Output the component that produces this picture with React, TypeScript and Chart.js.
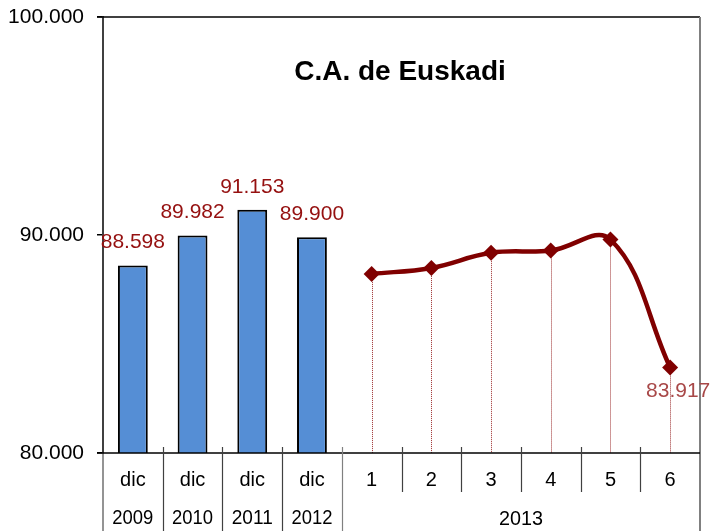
import React, { useEffect, useRef } from "react";
import { Chart, registerables } from "chart.js";

Chart.register(...registerables);

const topLabels = ["dic", "dic", "dic", "dic", "1", "2", "3", "4", "5", "6"];
const yearLabels = ["2009", "2010", "2011", "2012"];
const monthsYear = "2013";
const barValues: (number | null)[] = [88598, 89982, 91153, 89900, null, null, null, null, null, null];
const lineValues: (number | null)[] = [null, null, null, null, 88216, 88490, 89182, 89287, 89793, 83917];
const yTicks = [80000, 90000, 100000];
const title = "C.A. de Euskadi";

const FONT = "'Liberation Sans', Arial, sans-serif";
const fmt = (v: number) => {
  const s = Math.round(v).toString();
  return s.replace(/\B(?=(\d{3})+(?!\d))/g, ".");
};

const overlay = {
  id: "overlay",
  beforeDatasetsDraw(chart: any) {
    const ctx = chart.ctx;
    const y = chart.scales.y;
    const meta = chart.getDatasetMeta(1);
    ctx.save();
    ctx.strokeStyle = "rgba(140,10,10,0.85)";
    ctx.lineWidth = 1;
    ctx.setLineDash([1, 1]);
    meta.data.forEach((pt: any, i: number) => {
      if (lineValues[i] == null) return;
      const x = Math.round(pt.x) + 0.5;
      ctx.beginPath();
      ctx.moveTo(x, pt.y);
      ctx.lineTo(x, y.getPixelForValue(80000));
      ctx.stroke();
    });
    ctx.restore();
  },
  afterDraw(chart: any) {
    const ctx = chart.ctx;
    const area = chart.chartArea;
    const xs = chart.scales.x;
    const ys = chart.scales.y;
    const bottom = chart.height;
    ctx.save();
    // top border
    ctx.strokeStyle = "#000";
    ctx.lineWidth = 1.5;
    ctx.beginPath();
    ctx.moveTo(area.left - 6, area.top);
    ctx.lineTo(area.right, area.top);
    ctx.stroke();
    // right border
    ctx.strokeStyle = "#808080";
    ctx.lineWidth = 2;
    ctx.beginPath();
    ctx.moveTo(area.right, area.top);
    ctx.lineTo(area.right, bottom);
    ctx.stroke();
    // left axis extension
    ctx.strokeStyle = "#707070";
    ctx.lineWidth = 1.5;
    ctx.beginPath();
    ctx.moveTo(area.left, area.bottom);
    ctx.lineTo(area.left, bottom);
    ctx.stroke();
    // x axis
    ctx.strokeStyle = "#000";
    ctx.lineWidth = 1.5;
    ctx.beginPath();
    ctx.moveTo(area.left - 6, area.bottom);
    ctx.lineTo(area.right, area.bottom);
    ctx.stroke();
    // separators
    const n = topLabels.length;
    const w = (area.right - area.left) / n;
    for (let i = 1; i < n; i++) {
      const x = Math.round(xs.getPixelForValue(i) - w / 2) + 0.5;
      const full = i <= 4;
      ctx.strokeStyle = i === 4 ? "#808080" : "#404040";
      ctx.lineWidth = 1.2;
      ctx.beginPath();
      ctx.moveTo(x, area.bottom - 6);
      ctx.lineTo(x, full ? bottom : area.bottom + 39);
      ctx.stroke();
    }
    // labels
    ctx.fillStyle = "#000";
    ctx.textAlign = "center";
    ctx.textBaseline = "middle";
    ctx.font = `20px ${FONT}`;
    topLabels.forEach((t, i) => {
      ctx.fillText(t, xs.getPixelForValue(i), area.bottom + 27);
    });
    ctx.font = `20px ${FONT}`;
    yearLabels.forEach((t, i) => {
      ctx.fillText(t, xs.getPixelForValue(i), area.bottom + 65, 41);
    });
    const x4 = xs.getPixelForValue(4) - w / 2;
    ctx.fillText(monthsYear, (x4 + area.right) / 2, area.bottom + 66, 44);
    // bar value labels
    ctx.font = `21px ${FONT}`;
    ctx.fillStyle = "#951010";
    barValues.forEach((v, i) => {
      if (v == null) return;
      ctx.fillText(fmt(v), xs.getPixelForValue(i), ys.getPixelForValue(v) - 23);
    });
    // last line label
    const li = lineValues.length - 1;
    const lv = lineValues[li] as number;
    ctx.fillStyle = "#A84848";
    ctx.fillText(fmt(lv), xs.getPixelForValue(li) + 8, ys.getPixelForValue(lv) + 24);
    // title
    ctx.fillStyle = "#000";
    ctx.font = `bold 28px ${FONT}`;
    ctx.textBaseline = "alphabetic";
    ctx.fillText(title, 400, 80);
    ctx.restore();
  },
};

export default function App() {
  const ref = useRef<HTMLCanvasElement | null>(null);
  useEffect(() => {
    if (!ref.current) return;
    Chart.defaults.font.family = FONT;
    const chart = new Chart(ref.current, {
      type: "bar",
      data: {
        labels: topLabels.map((t, i) => (i < 4 ? `${t} ${yearLabels[i]}` : `${t} ${monthsYear}`)),
        datasets: [
          {
            type: "bar",
            data: barValues,
            backgroundColor: "#558ED5",
            borderColor: "#000",
            borderWidth: 2,
            barPercentage: 0.5,
            categoryPercentage: 1,
            order: 2,
          } as any,
          {
            type: "line",
            data: lineValues,
            borderColor: "#800000",
            backgroundColor: "#800000",
            borderWidth: 4.5,
            tension: 0.4,
            pointStyle: "rectRot",
            pointRadius: 8,
            pointBorderWidth: 0,
            order: 1,
          } as any,
        ],
      },
      options: {
        animation: false,
        responsive: false,
        devicePixelRatio: 1,
        layout: { padding: { top: 17, right: 10, left: 0, bottom: 0 } },
        plugins: { legend: { display: false }, tooltip: { enabled: false }, title: { display: false } },
        scales: {
          x: {
            ticks: { display: false },
            grid: { display: false },
            border: { display: false },
            afterFit: (s: any) => {
              s.height = 78;
              s.paddingLeft = 0;
              s.paddingRight = 0;
            },
          },
          y: {
            min: 80000,
            max: 100000,
            afterBuildTicks: (s: any) => {
              s.ticks = yTicks.map((v) => ({ value: v }));
            },
            ticks: {
              callback: (v: any) => fmt(Number(v)),
              font: { size: 21, family: FONT },
              color: "#000",
              padding: 13,
            },
            grid: { drawOnChartArea: false, drawTicks: true, tickLength: 6, color: "#000", lineWidth: 1.5 },
            border: { display: true, color: "#404040", width: 2 },
            afterFit: (s: any) => {
              s.width = 103;
              s.paddingTop = 0;
              s.paddingBottom = 0;
            },
          },
        },
      },
      plugins: [overlay],
    });
    return () => chart.destroy();
  }, []);
  return (
    <div style={{ position: "absolute", left: 0, top: 0, width: 710, height: 531, background: "#fff" }}>
      <canvas ref={ref} width={710} height={531} />
    </div>
  );
}
